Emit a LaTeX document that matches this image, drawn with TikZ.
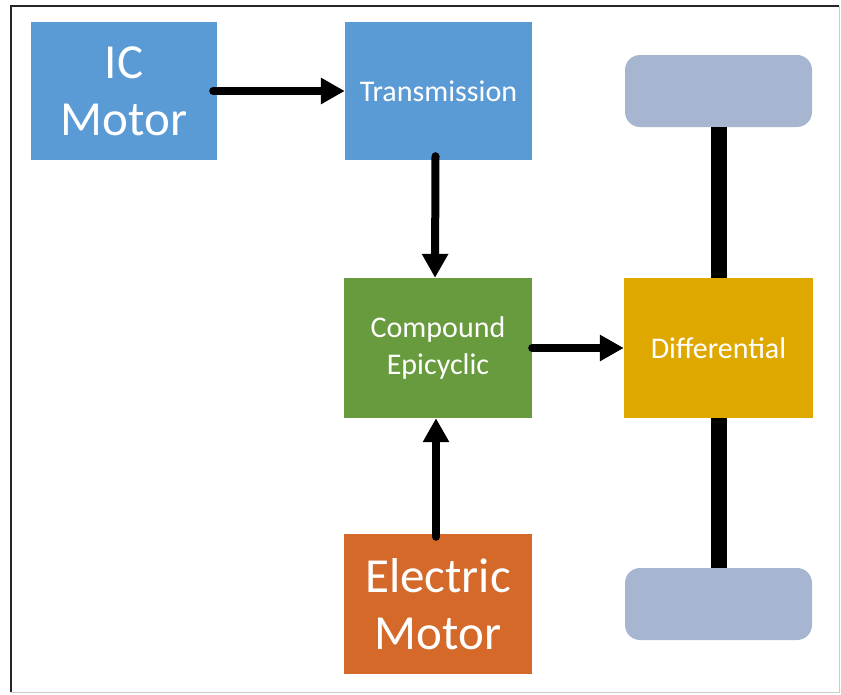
\documentclass[tikz,border=0pt]{standalone}
\usepackage{fontspec}
\setmainfont{Carlito}
\usetikzlibrary{arrows.meta}
\definecolor{cblue}{HTML}{5B9BD5}
\definecolor{cgreen}{HTML}{689B3E}
\definecolor{corange}{HTML}{D4692A}
\definecolor{cgold}{HTML}{DFA800}
\definecolor{cwheel}{HTML}{A6B6D0}
\tikzset{
  blk/.style={rectangle, inner sep=0pt, text=white, align=center},
  bigtxt/.style={font=\fontsize{49}{57}\selectfont},
  smalltxt/.style={font=\fontsize{30}{37}\selectfont},
  wheel/.style={rectangle, rounded corners=15pt, fill=cwheel, minimum width=187pt, minimum height=72pt},
  arr/.style={line width=8pt, line cap=round, -{Triangle[width=25pt,length=24pt]}},
  axle/.style={line width=16pt}
}
\begin{document}
\begin{tikzpicture}[x=1pt,y=-1pt]
\useasboundingbox (0,0) rectangle (841,694);
\fill[white] (0,0) rectangle (841,694);
% frame
\draw[line width=1pt, gray!40] (839,6) -- (839,692) -- (10.5,692);
\draw[line width=2pt, black!85] (10.5,692) -- (10.5,6) -- (839,6);
% nodes
\node[blk, bigtxt, fill=cblue, minimum width=186pt, minimum height=138pt] (ic) at (124,91) {IC\\Motor};
\node[blk, smalltxt, fill=cblue, minimum width=187pt, minimum height=138pt] (tr) at (438.5,91) {Transmission};
\node[blk, smalltxt, fill=cgreen, minimum width=188pt, minimum height=140pt] (cp) at (438,348) {Compound\\Epicyclic};
\node[blk, smalltxt, fill=cgold, minimum width=189pt, minimum height=140pt] (df) at (718.5,348) {Differential};
\node[blk, bigtxt, fill=corange, minimum width=188pt, minimum height=140pt] (em) at (438,604) {Electric\\Motor};
\node[wheel] (w1) at (718.5,91) {};
\node[wheel] (w2) at (718.5,604) {};
% axles
\draw[axle] (w1.south) -- (df.north);
\draw[axle] (df.south) -- (w2.north);
% arrows
\draw[arr] ([xshift=-4pt]ic.east) -- (tr.west);
\draw[arr] ([xshift=-3pt,yshift=4pt]tr.south) -- ([xshift=-3pt]cp.north);
\draw[arr] (cp.east) -- (df.west);
\draw[arr] ([xshift=-2pt,yshift=-3pt]em.north) -- ([xshift=-2pt]cp.south);
\end{tikzpicture}
\end{document}
